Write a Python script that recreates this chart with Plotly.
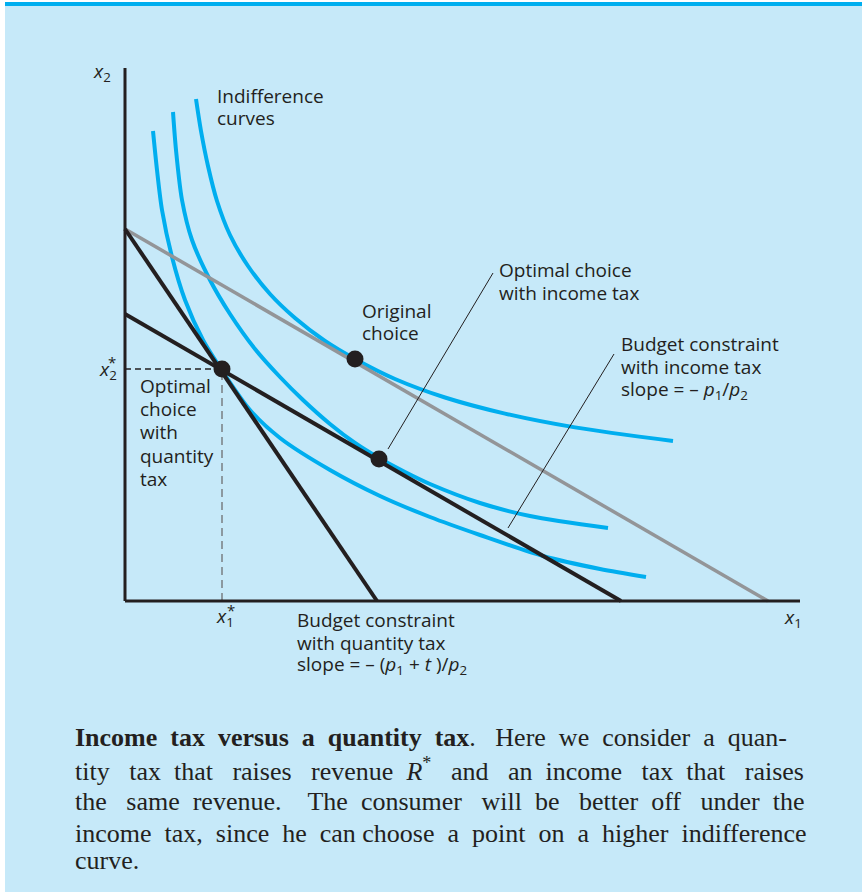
import plotly.graph_objects as go

# Units: 1 unit = 10 px, origin at the corner of the axes
# Budget lines (intercepts)
orig_budget_x = [0, 64.3]
orig_budget_y = [37.2, 0]
qty_budget_x = [0, 25.2]
qty_budget_y = [37.2, 0]
inc_budget_x = [0, 49.6]
inc_budget_y = [28.7, 0]

# Indifference curves
ic1_x = [2.8, 3.2, 3.7, 4.7, 6.0, 7.8, 9.8, 12.5, 15.5, 20.5, 25.5, 30.5, 35.5, 41.8, 47.5, 52.1]
ic1_y = [47.0, 43.1, 39.1, 34.4, 30.1, 26.1, 22.9, 19.1, 16.3, 13.1, 10.5, 8.4, 6.6, 4.5, 3.2, 2.4]
ic2_x = [4.8, 5.1, 5.7, 6.7, 8.5, 10.5, 13.0, 15.5, 17.8, 20.5, 23.0, 25.4, 28.0, 30.5, 35.5, 40.5, 48.3]
ic2_y = [48.9, 45.1, 40.1, 36.1, 32.1, 28.7, 25.2, 22.4, 20.1, 17.7, 15.8, 14.3, 12.9, 11.7, 9.8, 8.5, 7.3]
ic3_x = [7.1, 7.6, 8.3, 9.2, 10.5, 12.3, 14.5, 17.0, 20.0, 23.0, 27.0, 32.0, 38.0, 45.0, 54.8]
ic3_y = [50.2, 47.0, 43.5, 40.0, 36.6, 33.5, 30.7, 28.3, 26.0, 24.2, 22.2, 20.35, 18.74, 17.36, 16.0]

# Choice points
qty_opt = (9.7, 23.2)
orig_opt = (23.0, 24.2)
inc_opt = (25.4, 14.2)

# Leader lines
lead_inc_x = [26.3, 36.8]
lead_inc_y = [15.2, 32.8]
lead_bud_x = [38.3, 48.9]
lead_bud_y = [7.3, 24.7]

x_axis_end = 67.5
y_axis_end = 53.3

BLUE = '#00AEEF'
INK = '#231F20'
GREY = '#939598'
BG = '#C6E9F9'
W, H = 862, 892
NB = '\u00a0'

fig = go.Figure()

for cx, cy in [(ic1_x, ic1_y), (ic2_x, ic2_y), (ic3_x, ic3_y)]:
    fig.add_trace(go.Scatter(x=cx, y=cy, mode='lines',
                             line=dict(color=BLUE, width=4, shape='spline', smoothing=0.8)))

fig.add_trace(go.Scatter(x=orig_budget_x, y=orig_budget_y, mode='lines',
                         line=dict(color=GREY, width=3.5)))
fig.add_trace(go.Scatter(x=qty_budget_x, y=qty_budget_y, mode='lines',
                         line=dict(color=INK, width=4)))
fig.add_trace(go.Scatter(x=inc_budget_x, y=inc_budget_y, mode='lines',
                         line=dict(color=INK, width=4)))

# dashed guides to x1*, x2*
fig.add_trace(go.Scatter(x=[0, qty_opt[0]], y=[qty_opt[1], qty_opt[1]], mode='lines',
                         line=dict(color=INK, width=1.3, dash='6px,4px')))
fig.add_trace(go.Scatter(x=[qty_opt[0], qty_opt[0]], y=[0, qty_opt[1]], mode='lines',
                         line=dict(color='#6D6E71', width=1.3, dash='8px,5px')))

# leaders
fig.add_trace(go.Scatter(x=lead_inc_x, y=lead_inc_y, mode='lines', line=dict(color=INK, width=1)))
fig.add_trace(go.Scatter(x=lead_bud_x, y=lead_bud_y, mode='lines', line=dict(color=INK, width=1)))

# axes
fig.add_trace(go.Scatter(x=[0, 0], y=[0, y_axis_end], mode='lines', line=dict(color=INK, width=3)))
fig.add_trace(go.Scatter(x=[0, x_axis_end], y=[0, 0], mode='lines', line=dict(color=INK, width=3)))

fig.add_trace(go.Scatter(x=[qty_opt[0], orig_opt[0], inc_opt[0]],
                         y=[qty_opt[1], orig_opt[1], inc_opt[1]],
                         mode='markers', marker=dict(color=INK, size=17)))

lab = dict(family='Open Sans', size=19, color=INK)


def label(x, y, lines, xanchor='left', dy=2.3, font=lab):
    # one annotation per line, so the line spacing matches the drawing
    for i, t in enumerate(lines):
        fig.add_annotation(x=x, y=y - i * dy, xref='x', yref='y', text=t, showarrow=False,
                           xanchor=xanchor, yanchor='middle', align='left', font=font)


px_ = '<i>p</i>'
label(-1.2, 52.9, ['<i>x</i><sub>2</sub>'], xanchor='right')
label(9.0, 50.5, ['Indifference', 'curves'], dy=2.2)
label(-0.6, 23.1, ['<i>x</i><sub>2</sub>'], xanchor='right')
label(-0.75, 23.9, ['*'], xanchor='right', font=dict(family='Open Sans', size=15, color=INK))
label(1.3, 21.5, ['Optimal', 'choice', 'with', 'quantity', 'tax'], dy=2.32)
label(23.5, 29.0, ['Original', 'choice'], dy=2.2)
label(37.2, 33.1, ['Optimal choice', 'with income tax'])
label(49.4, 25.7, ['Budget constraint', 'with income tax',
                   'slope = – ' + px_ + '<sub>1</sub>/' + px_ + '<sub>2</sub>'])
label(17.0, -1.9, ['Budget constraint', 'with quantity tax',
                   'slope = – (' + px_ + '<sub>1</sub> + <i>t</i> )/' + px_ + '<sub>2</sub>'], dy=2.25)
label(10.0, -1.6, ['<i>x</i><sub>1</sub>'], xanchor='center')
label(10.55, -0.9, ['*'], xanchor='center', font=dict(family='Open Sans', size=15, color=INK))
label(66.8, -1.7, ['<i>x</i><sub>1</sub>'], xanchor='center')

# caption: words and extra non-breaking spaces per gap (to fill the measure)
cap_words = [
    ['<b>Income', 'tax', 'versus', 'a', 'quantity', 'tax</b>.' + NB, 'Here', 'we', 'consider', 'a', 'quan-'],
    ['tity', 'tax', 'that', 'raises', 'revenue', '<i>R</i><sup>*</sup>', 'and', 'an', 'income', 'tax', 'that', 'raises'],
    ['the', 'same', 'revenue.' + NB, 'The', 'consumer', 'will', 'be', 'better', 'off', 'under', 'the'],
    ['income', 'tax,', 'since', 'he', 'can', 'choose', 'a', 'point', 'on', 'a', 'higher', 'indifference'],
    ['curve.'],
]
cap_extra = [
    [1, 1, 1, 1, 1, 1, 1, 1, 1, 1],
    [2, 1, 2, 2, 1, 2, 2, 1, 2, 1, 2],
    [2, 1, 2, 1, 2, 1, 2, 1, 2, 1],
    [1, 1, 1, 1, 0, 1, 1, 1, 1, 1, 1],
    [],
]
cap_y = [737, 769, 801, 833, 860]
for words, extra, py in zip(cap_words, cap_extra, cap_y):
    t = words[0]
    for w, n in zip(words[1:], extra):
        t += NB * (1 + n) + w
    fig.add_annotation(x=73 / W, y=1 - py / H, xref='paper', yref='paper', text=t,
                       showarrow=False, xanchor='left', yanchor='middle',
                       font=dict(family='Liberation Serif', size=26, color=INK))

fig.update_layout(
    width=W, height=H,
    margin=dict(l=0, r=0, t=0, b=0),
    paper_bgcolor='white', plot_bgcolor='rgba(0,0,0,0)',
    showlegend=False,
    xaxis=dict(range=[-12.5, 73.7], visible=False, fixedrange=True),
    yaxis=dict(range=[-29.1, 60.1], visible=False, fixedrange=True),
    shapes=[
        dict(type='rect', xref='paper', yref='paper', x0=5 / W, x1=1, y0=0, y1=1 - 2 / H,
             fillcolor=BG, line=dict(width=0), layer='below'),
        dict(type='rect', xref='paper', yref='paper', x0=5 / W, x1=1, y0=1 - 6 / H, y1=1 - 2 / H,
             fillcolor=BLUE, line=dict(width=0), layer='below'),
    ],
)
fig.update_traces(hoverinfo='skip', cliponaxis=False)

fig.write_html("out.html", config={'displayModeBar': False},
               post_script="document.body.style.margin='0';")
